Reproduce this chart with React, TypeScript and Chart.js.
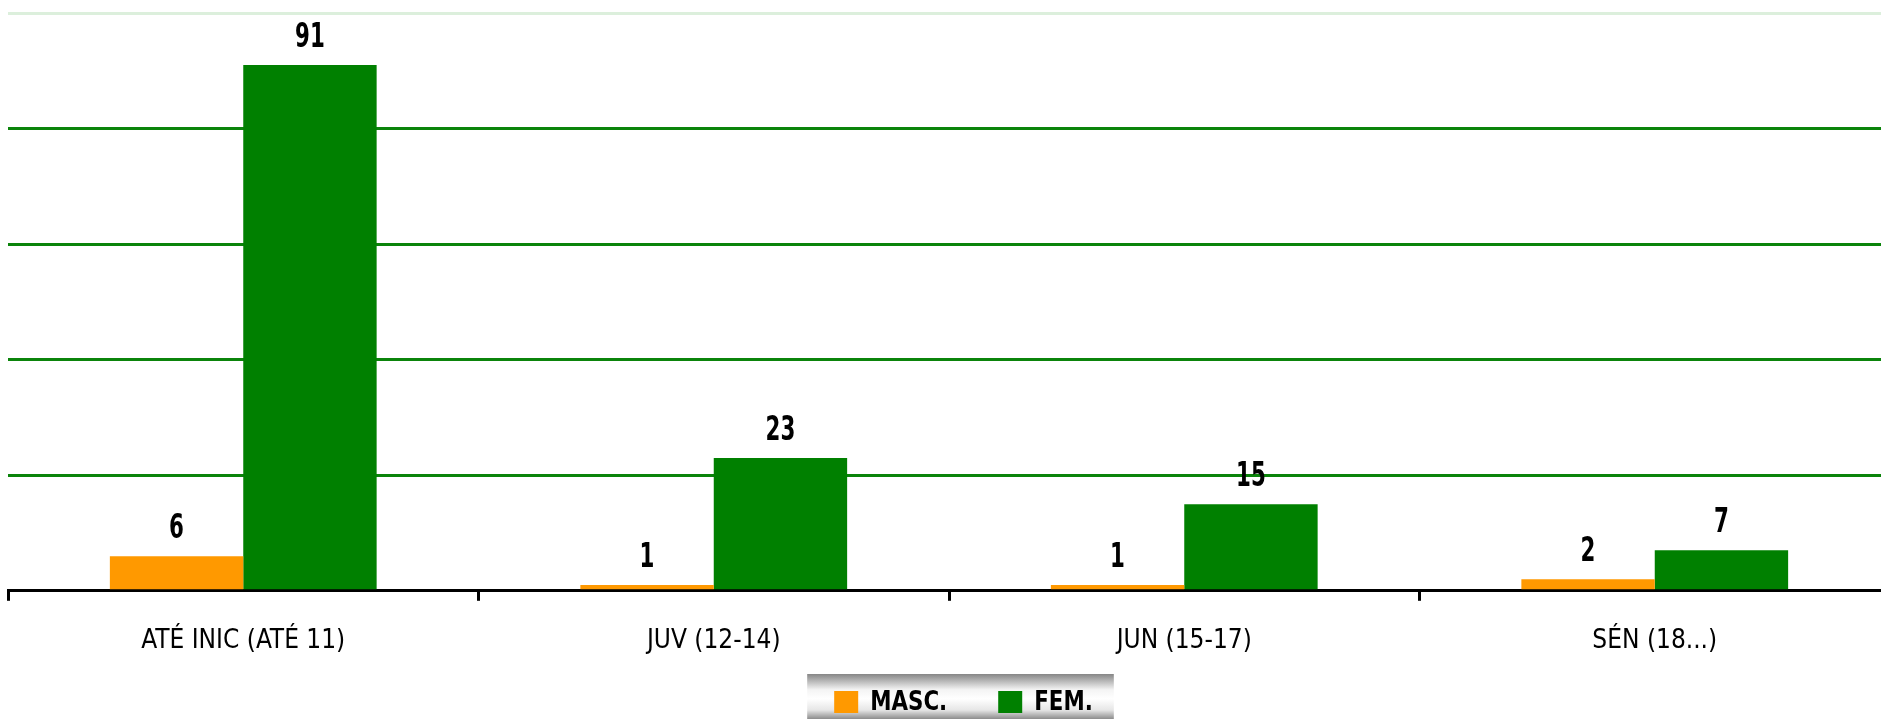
import { useEffect, useRef } from "react";
import { Chart, registerables } from "chart.js";

Chart.register(...registerables);

const categories = ["ATÉ INIC (ATÉ 11)", "JUV (12-14)", "JUN (15-17)", "SÉN (18...)"];
const seriesNames = ["MASC.", "FEM."];
const mascValues = [6, 1, 1, 2];
const femValues = [91, 23, 15, 7];
const yTickValues = [0, 20, 40, 60, 80, 100];
const seriesColors = ["#FF9900", "#008000"];

const FONT = "'Liberation Sans Narrow', 'DejaVu Sans Condensed', 'Roboto', sans-serif";

const valueLabels = {
  id: "valueLabels",
  afterDatasetsDraw(chart: any) {
    const ctx = chart.ctx;
    chart.data.datasets.forEach((ds: any, di: number) => {
      const meta = chart.getDatasetMeta(di);
      meta.data.forEach((el: any, i: number) => {
        ctx.save();
        ctx.fillStyle = "#000";
        ctx.font = `bold 33px ${FONT}`;
        ctx.textAlign = "center";
        ctx.textBaseline = "alphabetic";
        ctx.translate(el.x, el.y - 18);
        ctx.scale(0.72, 1);
        ctx.fillText(String(ds.data[i]), 0, 0);
        ctx.restore();
      });
    });
  },
};

const boxLegend = {
  id: "boxLegend",
  afterDraw(chart: any) {
    const ctx = chart.ctx;
    const H = chart.height;
    const top = H - 45;
    const bottom = H;
    ctx.save();
    ctx.font = `bold 27px ${FONT}`;
    const sx = 0.88;
    const items = chart.data.datasets.map((ds: any) => ({
      text: ds.label,
      color: ds.backgroundColor,
      w: ctx.measureText(ds.label).width * sx,
    }));
    const boxW = 24, boxH = 22, gapText = 12, gapItem = 51, padL = 27, padR = 21;
    let total = padL + padR;
    items.forEach((it: any, i: number) => {
      total += boxW + gapText + it.w + (i > 0 ? gapItem : 0);
    });
    const cx = 960.5;
    const left = cx - total / 2;
    const g = ctx.createLinearGradient(0, top, 0, bottom);
    g.addColorStop(0, "#868686");
    g.addColorStop(0.35, "#f4f4f4");
    g.addColorStop(0.55, "#ffffff");
    g.addColorStop(0.8, "#e6e6e6");
    g.addColorStop(1, "#8c8c8c");
    ctx.fillStyle = g;
    ctx.fillRect(left, top, total, bottom - top);
    let x = left + padL;
    const cy = top + 28;
    ctx.textBaseline = "middle";
    ctx.textAlign = "left";
    items.forEach((it: any, i: number) => {
      if (i > 0) x += gapItem;
      ctx.fillStyle = it.color;
      ctx.fillRect(x, cy - boxH / 2, boxW, boxH);
      x += boxW + gapText;
      ctx.fillStyle = "#000";
      ctx.save();
      ctx.translate(x, cy + 1);
      ctx.scale(sx, 1);
      ctx.fillText(it.text, 0, 0);
      ctx.restore();
      x += it.w;
    });
    ctx.restore();
  },
};

export default function App() {
  const ref = useRef<HTMLCanvasElement>(null);
  useEffect(() => {
    if (!ref.current) return;
    const chart = new Chart(ref.current, {
      type: "bar",
      data: {
        labels: categories,
        datasets: [
          {
            label: seriesNames[0],
            data: mascValues,
            backgroundColor: seriesColors[0],
            categoryPercentage: 0.567,
            barPercentage: 1,
          },
          {
            label: seriesNames[1],
            data: femValues,
            backgroundColor: seriesColors[1],
            categoryPercentage: 0.567,
            barPercentage: 1,
          },
        ],
      },
      options: {
        responsive: false,
        animation: false,
        devicePixelRatio: 1,
        layout: { padding: { left: 8, top: 13, right: 0, bottom: 37 } },
        plugins: {
          legend: { display: false },
          tooltip: { enabled: false },
        },
        scales: {
          x: {
            grid: {
              offset: true,
              drawOnChartArea: false,
              drawTicks: true,
              tickLength: 10,
              color: "#000",
              lineWidth: 3,
            },
            border: { display: true, color: "#000", width: 3 },
            ticks: {
              color: "#000",
              font: { family: FONT, size: 26 },
              padding: 25,
              maxRotation: 0,
              autoSkip: false,
            },
          },
          y: {
            min: yTickValues[0],
            max: yTickValues[yTickValues.length - 1],
            afterBuildTicks: (scale: any) => {
              scale.ticks = yTickValues.map((v) => ({ value: v }));
            },
            ticks: { display: false },
            border: { display: false },
            grid: {
              drawTicks: false,
              lineWidth: 3,
              color: (c: any) => {
                const v = c.tick ? c.tick.value : 0;
                if (v === 100) return "#dcefdc";
                if (v === 0) return "#bbbbbb";
                return "#0b840b";
              },
            },
          },
        },
      },
      plugins: [valueLabels, boxLegend],
    });
    return () => chart.destroy();
  }, []);
  return (
    <div
      style={{
        position: "absolute",
        left: 0,
        top: 0,
        width: 1881,
        height: 719,
        overflow: "hidden",
        background: "#fff",
      }}
    >
      <canvas ref={ref} width={1890} height={719} style={{ display: "block" }} />
    </div>
  );
}
